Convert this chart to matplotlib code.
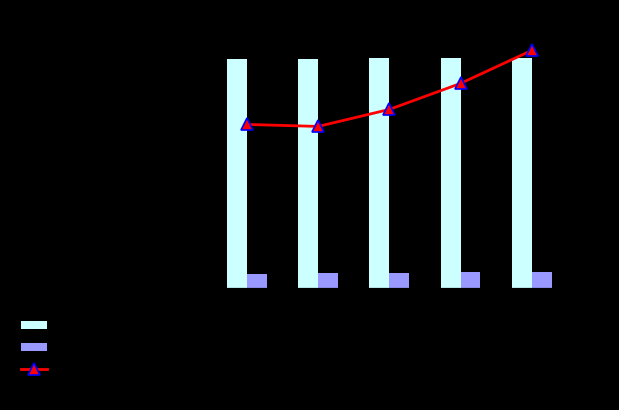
import matplotlib
matplotlib.use("Agg")
import matplotlib.pyplot as plt
import numpy as np

categories = ["2015", "2016", "2017", "2018", "2019"]
total_values = [229, 229, 230, 230, 230]
part_values = [14, 15, 15, 16, 16]
rate_values = [16.4, 16.2, 17.9, 20.5, 23.8]

fig = plt.figure(figsize=(6.19, 4.101), dpi=100, facecolor="black")
ax = fig.add_axes([0.3415, 121.5 / 410, 0.575, 260 / 410])
ax.set_facecolor("black")
ax2 = ax.twinx()

x = np.arange(len(categories))
w = 0.28
b1 = ax.bar(x - w / 2, total_values, width=w, color="#ccffff", label="Total")
b2 = ax.bar(x + w / 2, part_values, width=w, color="#9999ff", label="Part")
l1, = ax2.plot(x, rate_values, color="red", lw=2, marker="^", markersize=8,
               markerfacecolor="red", markeredgecolor="blue", markeredgewidth=1.2,
               label="Rate")

ax.set_xlim(-0.5, 4.5)
ax.set_ylim(0, 260)
ax2.set_ylim(0, 26)
ax.set_xticks(x)
ax.set_xticklabels(categories, color="black")
for a in (ax, ax2):
    a.tick_params(colors="black", labelcolor="black")
    for s in a.spines.values():
        s.set_color("black")

leg = fig.legend(handles=[b1, b2, l1], labels=["Total", "Part", "Rate"],
                 loc="upper left", bbox_to_anchor=(21 / 619, 1 - 319 / 410),
                 frameon=False, borderaxespad=0, borderpad=0,
                 handlelength=1.9, handleheight=0.45, labelspacing=0.56,
                 fontsize=10)
for t in leg.get_texts():
    t.set_color("black")

fig.savefig("out.png", dpi=100, facecolor="black")
